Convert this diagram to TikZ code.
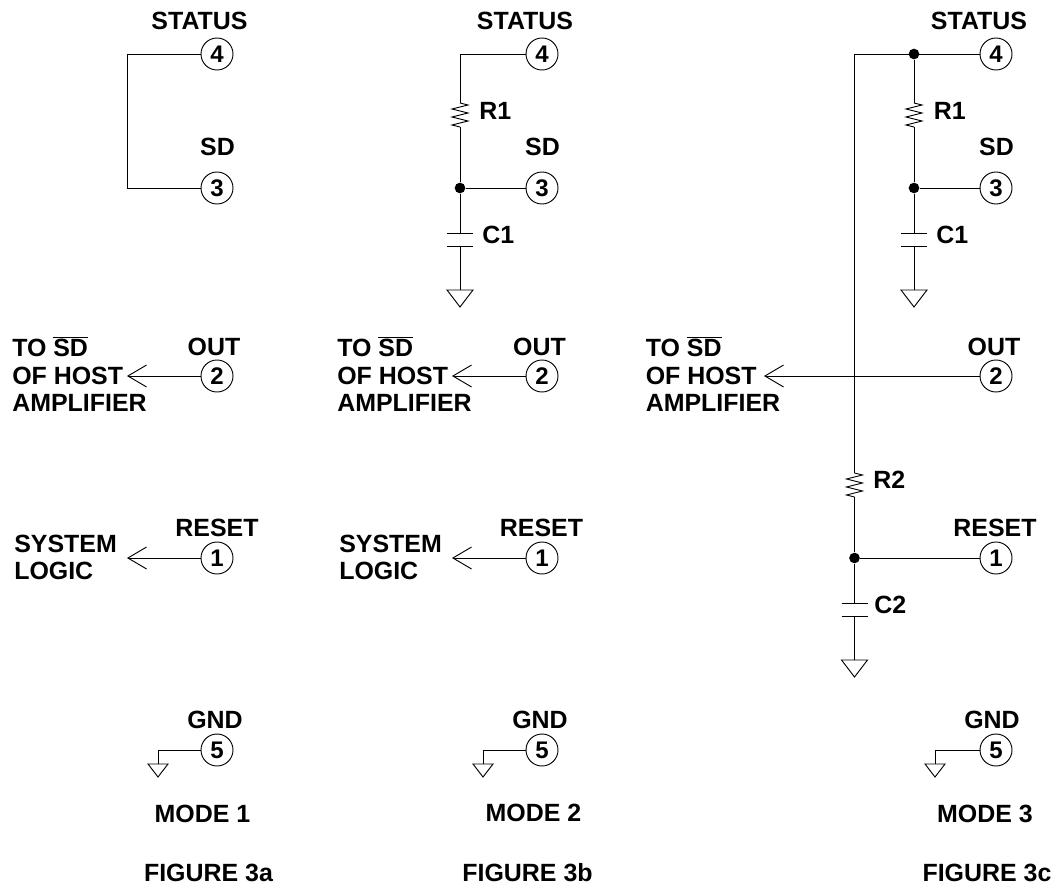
\documentclass[tikz,border=0pt]{standalone}
\usepackage{fontspec}
\setmainfont{Liberation Sans}
\usetikzlibrary{arrows.meta}
\tikzset{
  wire/.style={line width=0.7pt},
  pin/.style={circle,draw,line width=0.7pt,minimum size=24pt,inner sep=0pt,font=\fontsize{18}{20}\bfseries},
  lbl/.style={font=\fontsize{18.7}{20.8}\bfseries,align=left,inner sep=0pt},
  dot/.style={circle,fill,inner sep=0pt,minimum size=8pt},
  sigarrow/.style={wire,-{Straight Barb[length=14pt,width=16.5pt,line width=0.7pt]}},
  resistor/.pic={\draw[wire] (0,0) -- (8,2) -- (-8,6) -- (8,10) -- (-8,14) -- (8,18) -- (-8,22) -- (0,24);},
  capacitor/.pic={\draw[wire] (-13,0) -- (13,0) (-13,13) -- (13,13);},
  ground/.pic={\draw[wire] (-13,0) -- (13,0) -- (0,17) -- cycle;},
  smallground/.pic={\draw[wire] (-10,0) -- (10,0) -- (0,13) -- cycle;}
}
\begin{document}
\begin{tikzpicture}[x=0.75pt,y=-0.75pt]
\useasboundingbox (0,0) rectangle (1053,888);
% pins and their names
\foreach \col/\x in {a/217,b/542,c/996} {
\node[pin] (\col4) at (\x,54) {4};
\node[pin] (\col3) at (\x,188) {3};
\node[pin] (\col2) at (\x,376) {2};
\node[pin] (\col1) at (\x,558) {1};
\node[pin] (\col5) at (\x,750) {5};
}
\foreach \col/\x in {a/199.5,b/525,c/979}
\node[lbl] (\col status) at (\x,20.5) {STATUS};
\foreach \col/\x in {a/217.5,b/542.5,c/996.5}
\node[lbl] (\col sd) at (\x,147) {SD};
\foreach \col/\x in {a/214,b/539.5,c/994}
\node[lbl] (\col out) at (\x,346.5) {OUT};
\foreach \col/\x in {a/217,b/541.5,c/995}
\node[lbl] (\col reset) at (\x,528) {RESET};
\foreach \col/\x in {a/215,b/540,c/992}
\node[lbl] (\col gnd) at (\x,720) {GND};
\node[lbl] (amode) at (202.5,814) {MODE 1};
\node[lbl] (bmode) at (533.5,812.5) {MODE 2};
\node[lbl] (cmode) at (985,814) {MODE 3};
\node[lbl] (afig) at (208.5,873) {FIGURE 3a};
\node[lbl] (bfig) at (527.5,873) {FIGURE 3b};
\node[lbl] (cfig) at (987,873) {FIGURE 3c};
% host and logic texts
\foreach \col/\x/\tip in {a/12/127,b/337/452,c/645.5/764} {
\node[lbl,anchor=west] (\col host) at (\x,374) {TO $\overline{\mbox{SD}}$\\OF HOST\\AMPLIFIER};
\coordinate (\col tip2) at (\tip,376);
\draw[sigarrow] (\col2) -- (\col tip2);
}
\foreach \col/\x/\tip in {a/14/127,b/339/452} {
\node[lbl,anchor=west] (\col sys) at (\x,557.5) {SYSTEM\\LOGIC};
\coordinate (\col tip1) at (\tip,558);
\draw[sigarrow] (\col1) -- (\col tip1);
}
% pin 5 grounds
\foreach \col/\x in {a/158,b/483,c/935} {
\coordinate (\col gtop) at (\x,764);
\draw[wire] (\col5) -| (\col gtop);
\pic at (\col gtop) {smallground};
}
% figure 3a
\coordinate (acorner) at (127,54);
\coordinate (acorner3) at (127,188);
\draw[wire] (a4) -- (acorner) -- (acorner3) -- (a3);
% R1 and C1 in figures 3b and 3c
\foreach \col/\x in {b/460,c/914} {
\coordinate (\col rtop) at (\x,103);
\coordinate (\col rbot) at (\x,127);
\coordinate (\col ctop) at (\x,233);
\coordinate (\col cbot) at (\x,246);
\coordinate (\col gnd1) at (\x,290);
\node[dot] (\col dot) at (\x,188) {};
\pic at (\col rtop) {resistor};
\pic at (\col ctop) {capacitor};
\pic at (\col gnd1) {ground};
\draw[wire] (\col rbot) -- (\col dot) -- (\col ctop);
\draw[wire] (\col dot) -- (\col3);
\draw[wire] (\col cbot) -- (\col gnd1);
}
\coordinate (bcorner) at (460,54);
\draw[wire] (b4) -- (bcorner) -- (brtop);
\node[lbl,anchor=west] (br1) at (479,111) {R1};
\node[lbl,anchor=west] (bc1) at (482,235) {C1};
\node[lbl,anchor=west] (cr1) at (933.5,111) {R1};
\node[lbl,anchor=west] (cc1) at (936,235) {C1};
% figure 3c
\node[dot] (ctopdot) at (914,54) {};
\coordinate (ccorner) at (854.5,54);
\coordinate (r2top) at (854.5,473);
\coordinate (r2bot) at (854.5,497);
\coordinate (c2top) at (854.5,603);
\coordinate (c2bot) at (854.5,616);
\coordinate (gnd2) at (854.5,660);
\node[dot] (cdot2) at (854.5,558) {};
\draw[wire] (c4) -- (ccorner) -- (r2top);
\draw[wire] (ctopdot) -- (crtop);
\pic at (r2top) {resistor};
\draw[wire] (r2bot) -- (cdot2) -- (c2top);
\draw[wire] (cdot2) -- (c1);
\pic at (c2top) {capacitor};
\draw[wire] (c2bot) -- (gnd2);
\pic at (gnd2) {ground};
\node[lbl,anchor=west] (cr2) at (873,480) {R2};
\node[lbl,anchor=west] (cc2) at (874,605) {C2};
\end{tikzpicture}
\end{document}
